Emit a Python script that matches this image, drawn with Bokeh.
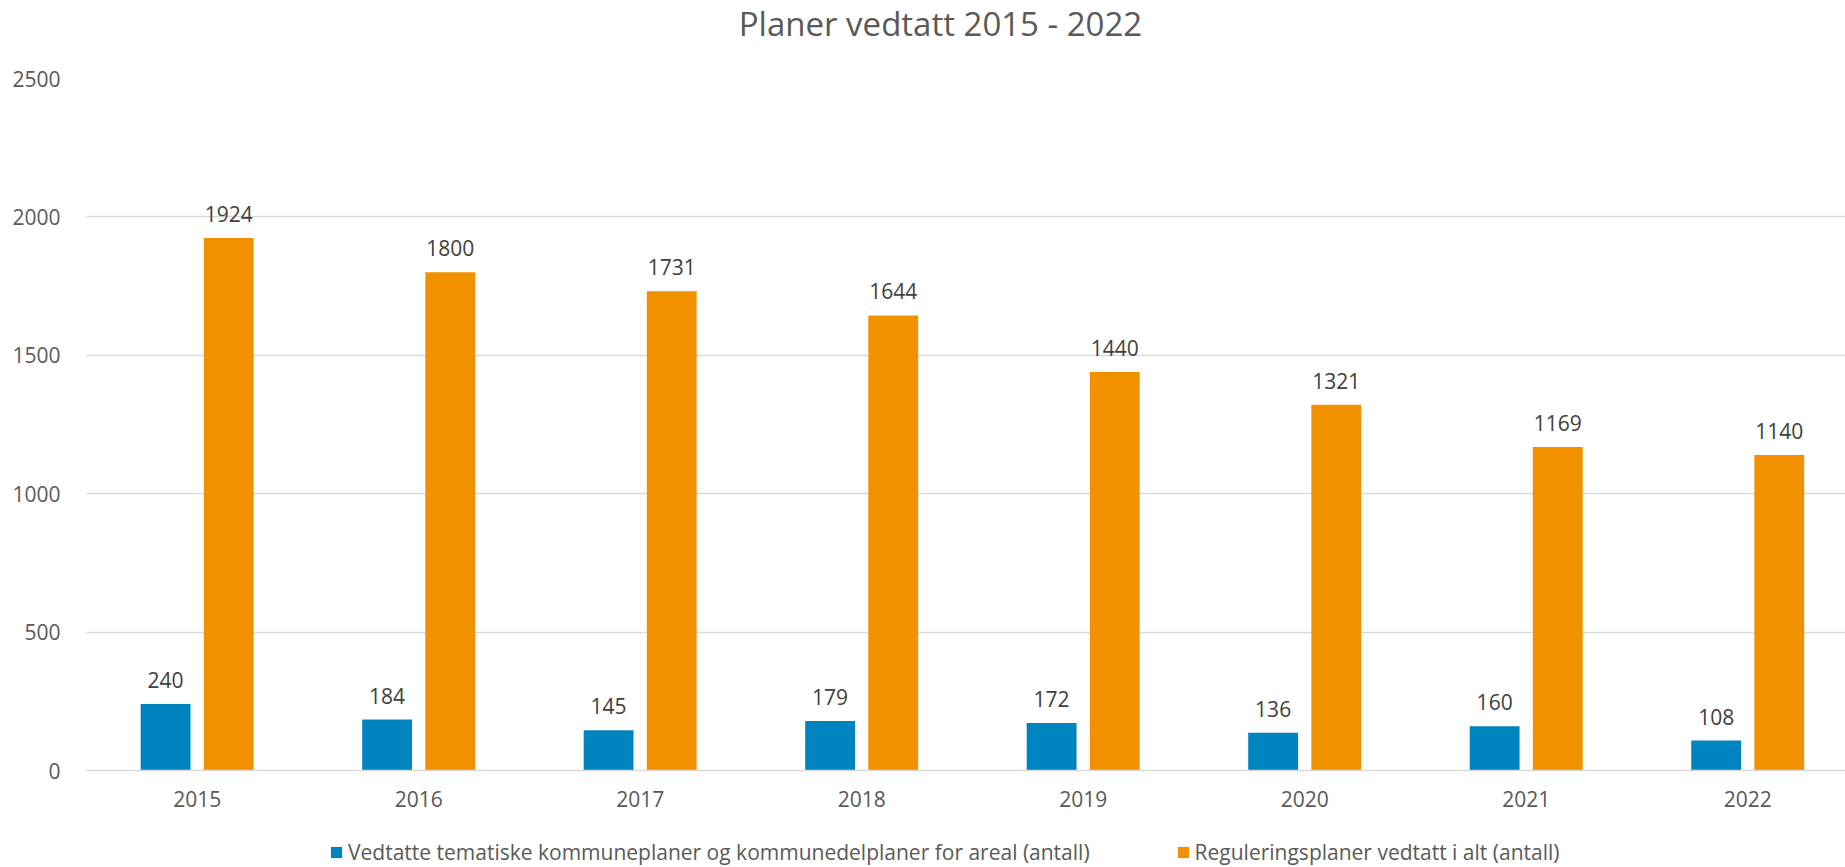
from bokeh.plotting import figure
from bokeh.layouts import column
from bokeh.models import Range1d, ColumnDataSource, Legend, LegendItem, FixedTicker
from bokeh.embed import file_html
from bokeh.resources import INLINE
from bokeh.core.properties import value

years = ["2015", "2016", "2017", "2018", "2019", "2020", "2021", "2022"]
kommuneplaner = [240, 184, 145, 179, 172, 136, 160, 108]
reguleringsplaner = [1924, 1800, 1731, 1644, 1440, 1321, 1169, 1140]
y_ticks = [0, 500, 1000, 1500, 2000, 2500]
title_text = "Planer vedtatt 2015 - 2022"
series_names = ["Vedtatte tematiske kommuneplaner og kommunedelplaner for areal (antall)",
                "Reguleringsplaner vedtatt i alt (antall)"]

FONT = "Open Sans"
BLUE = "#0084C0"
ORANGE = "#F29100"
GRID = "#D9D9D9"
TXT = "#595959"
LBL = "#404040"
W = 1845
LEFT = 86  # frames of all stacked figures are aligned to the chart's frame


def strip(h):
    fig = figure(width=W, height=h, output_backend="svg", toolbar_location=None,
                 x_range=Range1d(LEFT, W), y_range=Range1d(0, h),
                 x_axis_location=None, y_axis_location=None,
                 min_border=0, min_border_left=LEFT, min_border_right=0,
                 min_border_top=0, min_border_bottom=0)
    fig.grid.visible = False
    fig.outline_line_color = None
    fig.background_fill_color = "white"
    fig.border_fill_color = "white"
    return fig


# ---- title strip ----
pt = strip(66)
pt.text(x=[940], y=[66 - 23], text=[title_text], text_align="center", text_baseline="middle",
        text_font=value(FONT), text_font_size="33px", text_color=TXT)

# ---- main chart ----
idx = list(range(len(years)))
src = ColumnDataSource(dict(
    xb=[i - 0.143 for i in idx],
    xo=[i + 0.142 for i in idx],
    b=kommuneplaner,
    o=reguleringsplaner,
    bt=[str(v) for v in kommuneplaner],
    ot=[str(v) for v in reguleringsplaner],
))

p = figure(width=W, height=754, output_backend="svg", toolbar_location=None,
           x_range=Range1d(-0.5, 7.441), y_range=Range1d(0, 2500),
           min_border_left=LEFT, min_border_right=0, min_border_top=12, min_border_bottom=50)
p.outline_line_color = None
p.background_fill_color = "white"
p.border_fill_color = "white"

rb = p.vbar(x="xb", top="b", width=0.225, source=src, fill_color=BLUE, line_color=None)
ro = p.vbar(x="xo", top="o", width=0.225, source=src, fill_color=ORANGE, line_color=None)

p.text(x="xb", y="b", text="bt", source=src, text_align="center", text_baseline="alphabetic",
       y_offset=-24, text_font=value(FONT), text_font_size="21px", text_color=LBL)
p.text(x="xo", y="o", text="ot", source=src, text_align="center", text_baseline="alphabetic",
       y_offset=-24, text_font=value(FONT), text_font_size="21px", text_color=LBL)

p.xaxis.ticker = FixedTicker(ticks=idx)
p.xaxis.major_label_overrides = {i: y for i, y in zip(idx, years)}
p.xaxis.axis_line_color = GRID
p.xaxis.axis_line_width = 1.5
p.xaxis.major_tick_line_color = None
p.xaxis.minor_tick_line_color = None
p.xaxis.major_label_text_font = FONT
p.xaxis.major_label_text_font_size = "21px"
p.xaxis.major_label_text_color = TXT
p.xaxis.major_label_standoff = 14

p.yaxis.ticker = FixedTicker(ticks=y_ticks)
p.yaxis.axis_line_color = None
p.yaxis.major_tick_line_color = None
p.yaxis.minor_tick_line_color = None
p.yaxis.major_label_text_font = FONT
p.yaxis.major_label_text_font_size = "21px"
p.yaxis.major_label_text_color = TXT
p.yaxis.major_label_standoff = 20

p.xgrid.grid_line_color = None
p.ygrid.grid_line_color = GRID
p.ygrid.grid_line_width = 1.5

# ---- legend strip (swatch renderers have zero height, only the legend shows) ----
pl = strip(47)
lb = pl.vbar(x=[1000], top=[0], bottom=[0], width=1, fill_color=BLUE, line_color=None)
lo = pl.vbar(x=[1000], top=[0], bottom=[0], width=1, fill_color=ORANGE, line_color=None)
legend = Legend(items=[LegendItem(label=series_names[0], renderers=[lb]),
                       LegendItem(label=series_names[1], renderers=[lo])],
                orientation="horizontal", location=(329 - LEFT, 1),
                glyph_width=14, glyph_height=14, label_standoff=5, spacing=86,
                padding=0, margin=0, border_line_color=None, background_fill_alpha=0,
                label_text_font=FONT, label_text_font_size="21px", label_text_color=TXT,
                label_height=14)
pl.add_layout(legend, "center")

layout = column(pt, p, pl, spacing=0)
open("out.html", "w").write(file_html(layout, INLINE))
